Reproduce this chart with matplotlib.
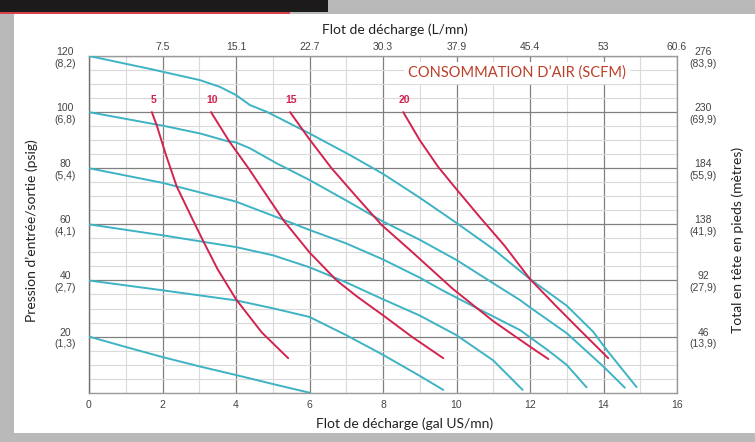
import matplotlib
matplotlib.use("Agg")
from matplotlib import pyplot as plt
from matplotlib.patches import Rectangle
from matplotlib.ticker import MultipleLocator

# axis ticks and labels
gpm_ticks = [0, 2, 4, 6, 8, 10, 12, 14, 16]
lpm_ticks = [2, 4, 6, 8, 10, 12, 14, 16]
lpm_labels = ['7.5', '15.1', '22.7', '30.3', '37.9', '45.4', '53', '60.6']
psi_ticks = [20, 40, 60, 80, 100, 120]
psi_labels = ['20\n(1,3)', '40\n(2,7)', '60\n(4,1)', '80\n(5,4)', '100\n(6,8)', '120\n(8,2)']
head_labels = ['46\n(13,9)', '92\n(27,9)', '138\n(41,9)', '184\n(55,9)', '230\n(69,9)', '276\n(83,9)']

# pressure curves (psig vs gal US/mn)
p120_x = [0, 1.66, 2, 3.02, 3.56, 4, 4.38, 4.84, 6, 7.1, 8, 9, 10, 11, 12, 13, 13.72, 14.09, 14.5, 14.9]
p120_y = [120, 115.4, 114.4, 111.4, 109, 106.1, 102.5, 100.1, 92.4, 84.7, 78, 69.5, 60.5, 51.2, 40.5, 31, 21.7, 15.2, 8.5, 2]
p100_x = [0, 1.66, 2, 3.02, 3.75, 4, 4.38, 5.1, 6, 7, 8, 9, 10, 11, 11.73, 12, 13, 14, 14.58]
p100_y = [100, 96, 95.2, 92.4, 89.7, 89.2, 87.1, 81.8, 75.8, 68.5, 61, 54.5, 47.3, 39, 33, 30.4, 21.2, 9.3, 1.8]
p80_x = [0, 2, 4, 5.2, 6, 7, 8, 9, 9.6, 10.5, 11.73, 12.5, 13, 13.54]
p80_y = [80, 74.8, 68.1, 62.1, 58, 53.2, 47.5, 41, 36.6, 30.5, 22.3, 15, 9.9, 1.9]
p60_x = [0, 2, 4, 5, 6, 7, 8, 9, 10, 11, 11.8]
p60_y = [60, 56.1, 51.9, 49, 44.7, 39.3, 33.3, 27.5, 20.5, 11.5, 1]
p40_x = [0, 2, 4, 5, 6, 7, 8, 9, 9.64]
p40_y = [40, 36.5, 32.9, 30.1, 27, 20.5, 13.5, 6, 1]
p20_x = [0, 1, 2, 3, 4, 5, 6]
p20_y = [20, 16.3, 12.7, 9.4, 6.3, 3.1, 0]

# air consumption curves (SCFM)
air_names = ['5', '10', '15', '20']
a5_x = [1.71, 1.84, 2.1, 2.39, 2.84, 3.11, 3.5, 4, 4.7, 5.42]
a5_y = [100, 95.4, 84.5, 73.4, 61.2, 54, 44, 33.3, 21.5, 12.3]
a10_x = [3.32, 3.82, 4.34, 4.8, 5.3, 6, 6.74, 7.3, 8, 8.8, 9.64]
a10_y = [100, 89.5, 80, 71, 61.3, 50, 40, 34.2, 27.6, 19.8, 12.3]
a15_x = [5.47, 6, 6.6, 7.3, 7.96, 8.73, 9.9, 11, 12, 12.5]
a15_y = [100, 90.3, 80, 69.5, 59.8, 50.9, 37, 25.5, 16.4, 12]
a20_x = [8.55, 9.0, 9.5, 10, 10.64, 11.3, 12, 12.7, 13.36, 14.13]
a20_y = [100, 90, 80.5, 72.5, 62.5, 52.5, 40.5, 31, 22.3, 12.3]

cyan = '#3db3c4'
red = '#d2234f'
tick_col = '#444444'
label_font = ['Lato', 'DejaVu Sans']
tick_font = ['Liberation Sans', 'DejaVu Sans']

fig = plt.figure(figsize=(7.55, 4.42), dpi=100)
fig.patch.set_facecolor('#b9b9b9')

# frame decoration, kept behind the axes
fig.patches.append(Rectangle((14 / 755, 1 - 433 / 442), 741 / 755, 419 / 442,
                             transform=fig.transFigure, facecolor='white', edgecolor='none', zorder=-3))
fig.patches.append(Rectangle((0, 1 - 12 / 442), 328 / 755, 12 / 442,
                             transform=fig.transFigure, facecolor='#1c1a1a', edgecolor='none', zorder=-2))
fig.patches.append(Rectangle((0, 1 - 13.5 / 442), 290 / 755, 1.5 / 442,
                             transform=fig.transFigure, facecolor='#d9414a', edgecolor='none', zorder=-2))

ax = fig.add_axes([89 / 755, 1 - 392.7 / 442, 588 / 755, 336.7 / 442])
ax.set_xlim(0, 16)
ax.set_ylim(0, 120)

ax.xaxis.set_minor_locator(MultipleLocator(1))
ax.yaxis.set_minor_locator(MultipleLocator(5))
ax.grid(which='major', color='#808080', linewidth=0.9)
ax.grid(which='minor', color='#dadada', linewidth=0.8)
ax.set_axisbelow(True)
for s in ax.spines.values():
    s.set_color('#9a9a9a')
    s.set_linewidth(1.0)
ax.spines['left'].set_color('#707070')

ax.set_xticks(gpm_ticks)
ax.set_xticklabels([str(t) for t in gpm_ticks], family=tick_font, fontsize=7.5, color=tick_col)
ax.set_yticks(psi_ticks)
ax.set_yticklabels(psi_labels, family=tick_font, fontsize=7.5, color=tick_col, ha='center',
                   multialignment='center')
ax.tick_params(axis='x', which='both', length=0, pad=5)
ax.tick_params(axis='y', which='both', length=0, pad=17)

pressure = [(p120_x, p120_y), (p100_x, p100_y), (p80_x, p80_y),
            (p60_x, p60_y), (p40_x, p40_y), (p20_x, p20_y)]
for xs, ys in pressure:
    ax.plot(xs, ys, color=cyan, linewidth=1.4, solid_capstyle='round', solid_joinstyle='round', zorder=3)

air = [(a5_x, a5_y), (a10_x, a10_y), (a15_x, a15_y), (a20_x, a20_y)]
for name, (xs, ys) in zip(air_names, air):
    ax.plot(xs, ys, color=red, linewidth=1.4, solid_capstyle='round', solid_joinstyle='round', zorder=4)
    ax.annotate(name, (xs[0], ys[0]), xytext=(1, 5), textcoords='offset points',
                ha='center', va='bottom', color=red, fontsize=7.5, fontweight='bold',
                family=tick_font)

ax.text(0.728, 0.9495, 'CONSOMMATION D\u2019AIR (SCFM)', transform=ax.transAxes,
        ha='center', va='center', color='#bb3f28', fontsize=10.5, family=label_font,
        bbox=dict(facecolor='white', edgecolor='none', pad=3), zorder=5)

ax.set_xlabel('Flot de d\u00e9charge (gal US/mn)', family=label_font, fontsize=10,
              color='#222222')
ax.xaxis.set_label_coords(0.537, -0.075)
ax.set_ylabel('Pression d\u2019entr\u00e9e/sortie (psig)', family=label_font, fontsize=10,
              color='#222222')
ax.yaxis.set_label_coords(-0.087, 0.48)

# top axis in L/mn
top = ax.twiny()
top.set_xlim(ax.get_xlim())
top.set_xticks(lpm_ticks)
top.set_xticklabels(lpm_labels, family=tick_font, fontsize=7.5, color=tick_col)
top.tick_params(axis='x', length=0, pad=3)
top.set_xlabel('Flot de d\u00e9charge (L/mn)', family=label_font, fontsize=10,
               color='#222222')
top.xaxis.set_label_coords(0.52, 1.065)
for s in top.spines.values():
    s.set_visible(False)

# right axis in feet (metres)
right = ax.twinx()
right.set_ylim(ax.get_ylim())
right.set_yticks(psi_ticks)
right.set_yticklabels(head_labels, family=tick_font, fontsize=7.5, color=tick_col, ha='center',
                      multialignment='center')
right.tick_params(axis='y', length=0, pad=19)
right.set_ylabel('Total en t\u00eate en pieds (m\u00e8tres)', family=label_font, fontsize=10,
                 color='#222222')
right.yaxis.set_label_coords(1.092, 0.453)
for s in right.spines.values():
    s.set_visible(False)

fig.savefig('out.png', dpi=100, facecolor=fig.get_facecolor())
